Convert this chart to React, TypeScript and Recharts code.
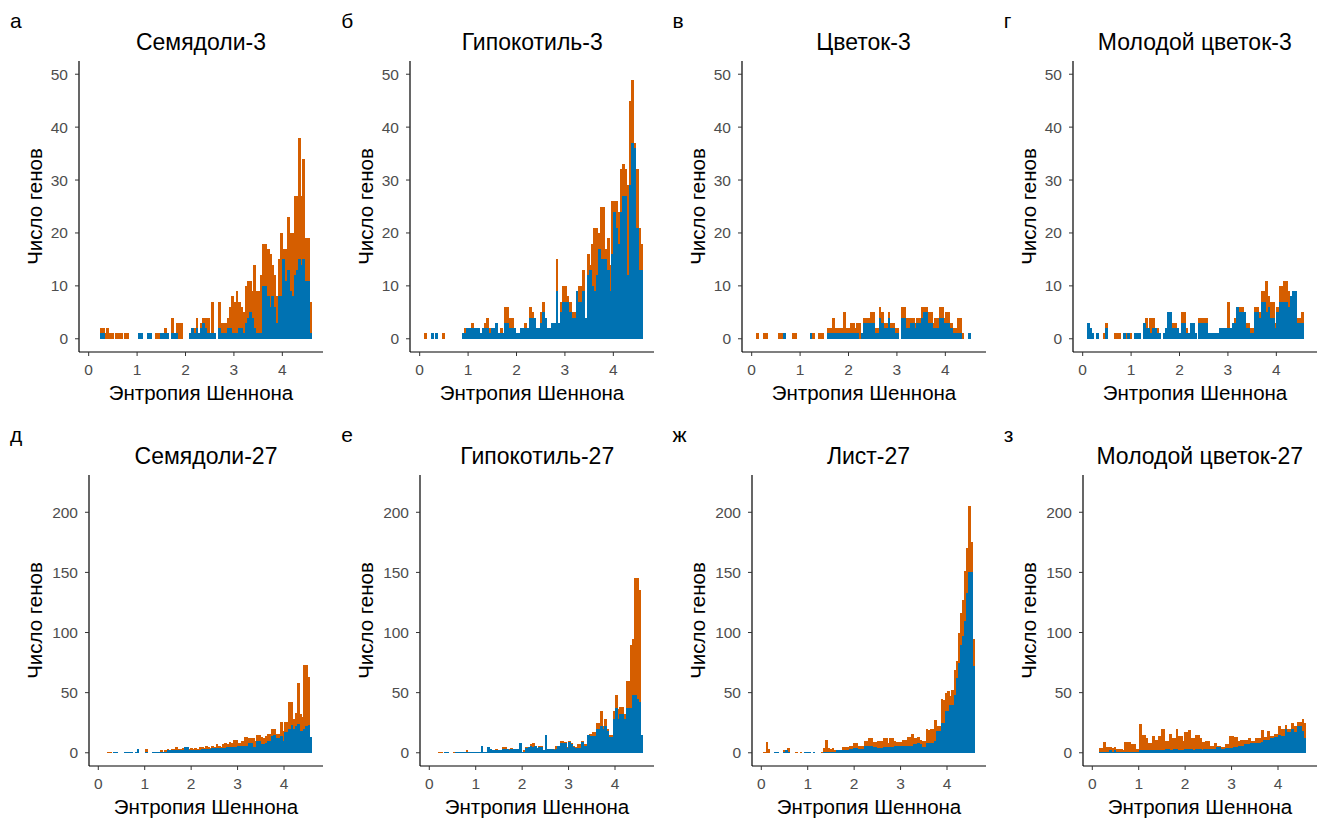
import React from 'react';
import { BarChart, Bar, XAxis, YAxis } from 'recharts';

const FONT = '"Liberation Sans", Arial, Helvetica, sans-serif';
const ORANGE = '#D55E00';
const BLUE = '#0072B2';

// Histogram bins: 100 bins of width 0.046 starting at 0
const BIN_COUNT = 100;
const BIN_WIDTH = 0.046;
const BIN_CENTERS = Array.from({ length: BIN_COUNT }, (_, i) => BIN_WIDTH / 2 + i * BIN_WIDTH);

const X_TICKS = [0, 1, 2, 3, 4];
const X_DOMAIN: [number, number] = [-0.2, 4.84];
const TOP_Y_TICKS = [0, 10, 20, 30, 40, 50];
const TOP_Y_DOMAIN: [number, number] = [-2.5, 52.5];
const BOTTOM_Y_TICKS = [0, 50, 100, 150, 200];
const BOTTOM_Y_DOMAIN: [number, number] = [-11, 231];

const X_LABEL = 'Энтропия Шеннона';
const Y_LABEL = 'Число генов';

const LETTERS = ['а', 'б', 'в', 'г', 'д', 'е', 'ж', 'з'];
const TITLES = [
  'Семядоли-3', 'Гипокотиль-3', 'Цветок-3', 'Молодой цветок-3',
  'Семядоли-27', 'Гипокотиль-27', 'Лист-27', 'Молодой цветок-27',
];

// Orange = all genes, Blue = subset (drawn over the orange)
const A_ORANGE = [
  0, 0, 0, 0, 0, 2, 2, 1, 2, 1,
  1, 0, 1, 1, 1, 0, 1, 1, 0, 0,
  0, 0, 1, 1, 0, 0, 1, 1, 0, 0,
  1, 1, 1, 1, 2, 1, 0, 4, 1, 3,
  3, 3, 0, 0, 0, 1, 2, 2, 4, 1,
  3, 4, 4, 4, 1, 7, 1, 0, 7, 3,
  3, 3, 4, 6, 8, 7, 9, 7, 6, 5,
  10, 11, 11, 9, 14, 9, 9, 12, 18, 18,
  17, 16, 14, 12, 8, 15, 20, 17, 17, 23,
  20, 20, 27, 27, 38, 27, 34, 19, 19, 7,
];
const A_BLUE = [
  0, 0, 0, 0, 0, 1, 1, 0, 0, 0,
  0, 0, 0, 0, 0, 0, 0, 0, 0, 0,
  0, 0, 1, 1, 0, 0, 1, 1, 0, 0,
  0, 0, 1, 1, 1, 1, 0, 1, 1, 1,
  0, 0, 0, 0, 0, 1, 2, 1, 2, 1,
  2, 3, 2, 1, 1, 1, 1, 0, 2, 1,
  1, 1, 2, 2, 1, 1, 1, 2, 2, 1,
  3, 4, 5, 4, 2, 1, 1, 1, 10, 10,
  8, 6, 8, 6, 3, 8, 8, 15, 11, 13,
  9, 8, 12, 13, 15, 14, 15, 11, 11, 1,
];

const B_ORANGE = [
  0, 0, 1, 0, 0, 1, 0, 1, 0, 0,
  1, 0, 0, 0, 0, 0, 0, 0, 0, 1,
  2, 2, 2, 3, 2, 2, 2, 1, 2, 3,
  4, 2, 2, 2, 3, 1, 2, 1, 6, 6,
  4, 4, 2, 1, 1, 2, 2, 3, 2, 6,
  5, 4, 2, 2, 5, 7, 4, 2, 2, 3,
  3, 15, 3, 7, 10, 10, 8, 7, 5, 5,
  9, 10, 10, 13, 4, 16, 14, 18, 21, 21,
  20, 25, 25, 17, 19, 14, 26, 26, 26, 24,
  32, 33, 32, 29, 45, 49, 37, 32, 21, 18,
];
const B_BLUE = [
  0, 0, 0, 0, 0, 1, 0, 1, 0, 0,
  0, 0, 0, 0, 0, 0, 0, 0, 0, 1,
  1, 2, 2, 2, 2, 2, 2, 1, 2, 2,
  2, 1, 2, 2, 3, 1, 1, 1, 3, 3,
  2, 2, 2, 1, 1, 2, 2, 2, 2, 4,
  4, 4, 2, 2, 3, 5, 4, 2, 2, 3,
  3, 9, 3, 5, 7, 7, 7, 5, 4, 4,
  9, 7, 7, 9, 4, 12, 13, 10, 9, 12,
  17, 15, 15, 15, 13, 9, 16, 24, 21, 18,
  24, 27, 27, 12, 29, 37, 36, 21, 13, 13,
];

const C_ORANGE = [
  0, 0, 1, 0, 0, 1, 1, 0, 0, 0,
  0, 0, 1, 1, 1, 0, 0, 0, 1, 1,
  0, 0, 0, 0, 0, 0, 1, 1, 0, 0,
  1, 1, 0, 0, 2, 2, 4, 2, 2, 2,
  2, 5, 2, 2, 3, 3, 2, 3, 3, 1,
  4, 4, 4, 5, 5, 2, 2, 6, 5, 3,
  3, 5, 3, 3, 2, 2, 0, 6, 6, 4,
  4, 4, 4, 3, 4, 4, 6, 6, 6, 5,
  5, 3, 4, 4, 6, 6, 4, 5, 5, 3,
  2, 2, 4, 4, 1, 0, 0, 1, 0, 0,
];
const C_BLUE = [
  0, 0, 0, 0, 0, 0, 0, 0, 0, 0,
  0, 0, 0, 0, 1, 0, 0, 0, 0, 0,
  0, 0, 0, 0, 0, 0, 1, 0, 0, 0,
  0, 0, 0, 0, 1, 1, 1, 1, 1, 1,
  1, 1, 1, 1, 1, 1, 1, 1, 0, 1,
  3, 3, 3, 3, 3, 1, 1, 4, 3, 2,
  2, 4, 2, 2, 1, 1, 0, 4, 4, 2,
  2, 3, 3, 2, 3, 3, 4, 5, 5, 3,
  3, 2, 2, 2, 4, 4, 3, 3, 3, 2,
  1, 1, 1, 1, 0, 0, 0, 1, 0, 0,
];

const D_ORANGE = [
  0, 0, 3, 2, 1, 0, 1, 0, 0, 1,
  3, 0, 0, 0, 1, 1, 1, 0, 1, 1,
  1, 1, 0, 1, 1, 1, 0, 3, 4, 2,
  4, 4, 2, 2, 1, 0, 1, 2, 5, 5,
  3, 3, 2, 1, 5, 5, 2, 1, 3, 3,
  1, 0, 4, 4, 4, 4, 1, 1, 1, 1,
  1, 2, 2, 2, 2, 7, 2, 3, 4, 6,
  6, 6, 5, 3, 3, 2, 2, 6, 6, 5,
  9, 9, 11, 8, 7, 7, 3, 6, 10, 10,
  11, 11, 9, 8, 9, 9, 4, 4, 5, 0,
];
const D_BLUE = [
  0, 0, 3, 2, 1, 0, 1, 0, 0, 0,
  2, 0, 0, 0, 0, 0, 0, 0, 1, 0,
  1, 0, 0, 1, 1, 1, 0, 3, 2, 2,
  1, 2, 2, 1, 1, 0, 1, 2, 5, 5,
  2, 2, 2, 1, 3, 3, 1, 1, 3, 3,
  1, 0, 3, 3, 3, 3, 1, 1, 1, 1,
  1, 2, 2, 2, 2, 2, 2, 3, 3, 6,
  5, 5, 5, 2, 2, 1, 1, 5, 5, 4,
  7, 7, 5, 6, 4, 4, 2, 5, 7, 7,
  7, 7, 6, 8, 9, 9, 3, 3, 3, 0,
];

const E_ORANGE = [
  0, 0, 0, 0, 1, 1, 0, 1, 1, 0,
  0, 0, 1, 1, 1, 1, 0, 1, 3, 0,
  0, 0, 3, 0, 0, 1, 1, 1, 1, 2,
  1, 2, 3, 2, 3, 3, 5, 3, 3, 4,
  5, 5, 3, 4, 3, 4, 3, 5, 5, 4,
  6, 5, 4, 6, 5, 7, 6, 5, 7, 8,
  7, 9, 8, 11, 11, 8, 8, 10, 13, 13,
  12, 12, 12, 10, 15, 15, 13, 12, 14, 16,
  16, 20, 20, 16, 16, 26, 18, 26, 26, 42,
  42, 28, 33, 58, 32, 30, 73, 73, 63, 13,
];
const E_BLUE = [
  0, 0, 0, 0, 0, 0, 0, 1, 1, 0,
  0, 0, 1, 1, 1, 1, 0, 1, 3, 0,
  0, 0, 1, 0, 0, 1, 1, 1, 1, 1,
  1, 1, 2, 2, 2, 2, 2, 2, 2, 2,
  5, 5, 2, 2, 2, 2, 2, 2, 3, 3,
  3, 3, 3, 4, 4, 4, 4, 4, 4, 4,
  5, 5, 5, 5, 5, 6, 6, 6, 6, 6,
  8, 8, 5, 5, 10, 10, 7, 7, 8, 10,
  10, 14, 15, 12, 12, 14, 10, 17, 17, 20,
  23, 20, 22, 24, 18, 18, 20, 22, 23, 13,
];

const F_ORANGE = [
  0, 0, 0, 0, 1, 1, 0, 1, 1, 0,
  0, 1, 1, 1, 1, 1, 1, 2, 1, 1,
  1, 1, 1, 1, 6, 1, 1, 5, 3, 2,
  2, 3, 2, 2, 5, 5, 3, 3, 4, 3,
  3, 3, 8, 1, 2, 5, 5, 7, 8, 6,
  4, 6, 6, 2, 15, 3, 3, 3, 3, 6,
  6, 10, 10, 9, 5, 10, 8, 6, 5, 7,
  7, 10, 7, 7, 15, 16, 17, 17, 25, 25,
  35, 22, 28, 20, 15, 15, 35, 48, 36, 38,
  38, 32, 60, 60, 90, 95, 145, 145, 135, 15,
];
const F_BLUE = [
  0, 0, 0, 0, 0, 0, 0, 1, 1, 0,
  0, 0, 1, 1, 1, 1, 1, 1, 1, 1,
  1, 1, 1, 1, 6, 1, 1, 5, 3, 2,
  2, 2, 2, 2, 3, 3, 3, 2, 3, 3,
  3, 3, 8, 1, 1, 4, 5, 6, 5, 6,
  4, 5, 5, 2, 15, 3, 3, 3, 2, 3,
  6, 8, 8, 8, 4, 9, 7, 5, 4, 4,
  4, 9, 6, 6, 15, 14, 14, 14, 20, 20,
  22, 20, 22, 18, 13, 13, 28, 37, 28, 32,
  32, 28, 37, 37, 37, 48, 48, 45, 42, 15,
];

const G_ORANGE = [
  0, 1, 9, 3, 0, 0, 1, 1, 0, 0,
  2, 2, 4, 0, 0, 0, 1, 0, 1, 0,
  1, 1, 1, 0, 1, 0, 0, 0, 1, 4,
  11, 4, 3, 4, 2, 2, 2, 2, 5, 5,
  5, 6, 6, 8, 8, 6, 6, 6, 10, 10,
  12, 12, 9, 9, 10, 10, 10, 12, 12, 8,
  12, 12, 10, 9, 9, 9, 11, 11, 13, 13,
  16, 12, 12, 13, 11, 10, 10, 20, 19, 20,
  20, 27, 22, 22, 45, 44, 50, 51, 47, 52,
  69, 76, 100, 116, 127, 151, 170, 205, 175, 95,
];
const G_BLUE = [
  0, 0, 0, 0, 0, 0, 1, 1, 0, 0,
  1, 2, 1, 0, 0, 0, 0, 0, 0, 0,
  1, 1, 1, 0, 1, 0, 0, 0, 0, 1,
  1, 1, 1, 1, 1, 2, 2, 2, 2, 2,
  2, 3, 3, 4, 4, 3, 3, 3, 6, 6,
  6, 6, 5, 5, 4, 4, 4, 5, 5, 5,
  5, 5, 6, 6, 6, 6, 6, 6, 6, 6,
  6, 7, 7, 8, 7, 5, 5, 8, 8, 8,
  8, 10, 18, 18, 25, 25, 35, 35, 40, 40,
  48, 62, 75, 90, 97, 110, 133, 150, 150, 72,
];

const H_ORANGE = [
  0, 0, 0, 4, 4, 9, 5, 5, 5, 4,
  5, 3, 3, 3, 2, 9, 9, 9, 7, 7,
  3, 3, 24, 15, 15, 12, 8, 8, 14, 11,
  11, 14, 20, 20, 10, 10, 16, 12, 12, 20,
  14, 14, 10, 17, 17, 19, 12, 12, 15, 15,
  12, 9, 9, 10, 10, 6, 6, 8, 6, 6,
  5, 5, 7, 7, 14, 14, 13, 13, 10, 11,
  11, 11, 11, 12, 10, 10, 12, 12, 12, 19,
  13, 13, 18, 14, 14, 16, 16, 22, 20, 20,
  23, 20, 20, 25, 22, 22, 26, 26, 28, 25,
];
const H_BLUE = [
  0, 0, 0, 1, 1, 1, 1, 1, 2, 1,
  2, 1, 1, 1, 1, 1, 1, 1, 1, 1,
  1, 1, 2, 2, 2, 2, 2, 2, 2, 2,
  2, 2, 2, 2, 3, 3, 2, 2, 3, 3,
  2, 2, 2, 3, 3, 3, 3, 2, 3, 3,
  3, 2, 3, 3, 3, 3, 3, 3, 5, 5,
  3, 3, 4, 4, 4, 4, 5, 5, 6, 6,
  6, 7, 7, 7, 8, 8, 8, 8, 8, 9,
  11, 11, 11, 12, 12, 13, 13, 15, 14, 14,
  20, 17, 17, 20, 17, 17, 22, 22, 18, 12,
];

const ORANGE_SERIES = [A_ORANGE, B_ORANGE, C_ORANGE, D_ORANGE, E_ORANGE, F_ORANGE, G_ORANGE, H_ORANGE];
const BLUE_SERIES = [A_BLUE, B_BLUE, C_BLUE, D_BLUE, E_BLUE, F_BLUE, G_BLUE, H_BLUE];

// Layout
const CHART_W = 331;
const CHART_H = 410;
const PANEL_DX = 331.25;
const ROW_DY = 414;
const MARGIN = { top: 61, right: 8, left: 0, bottom: 10 };
const X_AXIS_H = 48;

const TICK_STYLE = { fill: '#4D4D4D', fontSize: 15.5, fontFamily: FONT };
const AXIS_TITLE_SIZE = 20.5;

// Histogram bar shape: slightly widened so adjacent bins join without seams
const HistRect = (props: any) => {
  const { x, y, width, height, fill } = props;
  if (!(height > 0) || !(width > 0)) return null;
  return <rect x={x} y={y} width={width + 0.6} height={height} fill={fill} shapeRendering="crispEdges" />;
};

function Panel({ index }: { index: number }) {
  const row = index < 4 ? 0 : 1;
  const col = index % 4;
  const yW = row === 0 ? 79 : 89;
  const plotW = CHART_W - MARGIN.right - MARGIN.left - yW;
  const barSize = (plotW * BIN_WIDTH) / (X_DOMAIN[1] - X_DOMAIN[0]) - 0.01;
  const orange = ORANGE_SERIES[index];
  const blue = BLUE_SERIES[index];
  const data = BIN_CENTERS.map((x, i) => ({ x, all: orange[i], sub: blue[i] }));
  return (
    <div style={{ position: 'absolute', left: col * PANEL_DX, top: row * ROW_DY, width: CHART_W, height: CHART_H }}>
      <BarChart width={CHART_W} height={CHART_H} data={data} margin={MARGIN} barCategoryGap={0} barGap={0}>
        <XAxis
          xAxisId="o"
          dataKey="x"
          type="number"
          domain={X_DOMAIN}
          ticks={X_TICKS}
          allowDataOverflow
          interval={0}
          height={X_AXIS_H}
          tickSize={4}
          tickMargin={8}
          stroke="#000"
          tick={TICK_STYLE}
          tickLine={{ stroke: '#333' }}
          axisLine={{ stroke: '#000', strokeWidth: 1.2 }}
          label={{ value: X_LABEL, position: 'insideBottom', offset: 0, fill: '#000', fontSize: AXIS_TITLE_SIZE, fontFamily: FONT }}
        />
        <XAxis xAxisId="b" dataKey="x" type="number" domain={X_DOMAIN} allowDataOverflow hide height={0} />
        <YAxis
          type="number"
          width={yW}
          domain={row === 0 ? TOP_Y_DOMAIN : BOTTOM_Y_DOMAIN}
          ticks={row === 0 ? TOP_Y_TICKS : BOTTOM_Y_TICKS}
          allowDataOverflow
          interval={0}
          tickSize={4}
          tickMargin={7}
          stroke="#000"
          tick={TICK_STYLE}
          tickLine={{ stroke: '#333' }}
          axisLine={{ stroke: '#000', strokeWidth: 1.2 }}
          label={{
            value: Y_LABEL,
            angle: -90,
            position: 'insideLeft',
            offset: 35,
            fill: '#000',
            fontSize: AXIS_TITLE_SIZE,
            fontFamily: FONT,
            style: { textAnchor: 'middle' },
          }}
        />
        <Bar xAxisId="o" dataKey="all" fill={ORANGE} shape={HistRect} barSize={barSize} isAnimationActive={false} />
        <Bar xAxisId="b" dataKey="sub" fill={BLUE} shape={HistRect} barSize={barSize} isAnimationActive={false} />
      </BarChart>
    </div>
  );
}

export default function App() {
  return (
    <div style={{ position: 'absolute', left: 0, top: 0, width: 1325, height: 819, background: '#fff', fontFamily: FONT }}>
      {TITLES.map((_, i) => (
        <Panel key={i} index={i} />
      ))}
      <svg width={1325} height={819} style={{ position: 'absolute', left: 0, top: 0, pointerEvents: 'none' }}>
        {TITLES.map((t, i) => {
          const row = i < 4 ? 0 : 1;
          const col = i % 4;
          const yW = row === 0 ? 79 : 89;
          const left = col * PANEL_DX;
          const cx = left + (yW + CHART_W - MARGIN.right) / 2;
          return (
            <g key={t}>
              <text x={left + 10} y={28 + row * ROW_DY} fontSize={21} fill="#000" fontFamily={FONT}>
                {LETTERS[i]}
              </text>
              <text x={cx} y={50 + row * ROW_DY} fontSize={23} fill="#000" textAnchor="middle" fontFamily={FONT}>
                {t}
              </text>
            </g>
          );
        })}
      </svg>
    </div>
  );
}
